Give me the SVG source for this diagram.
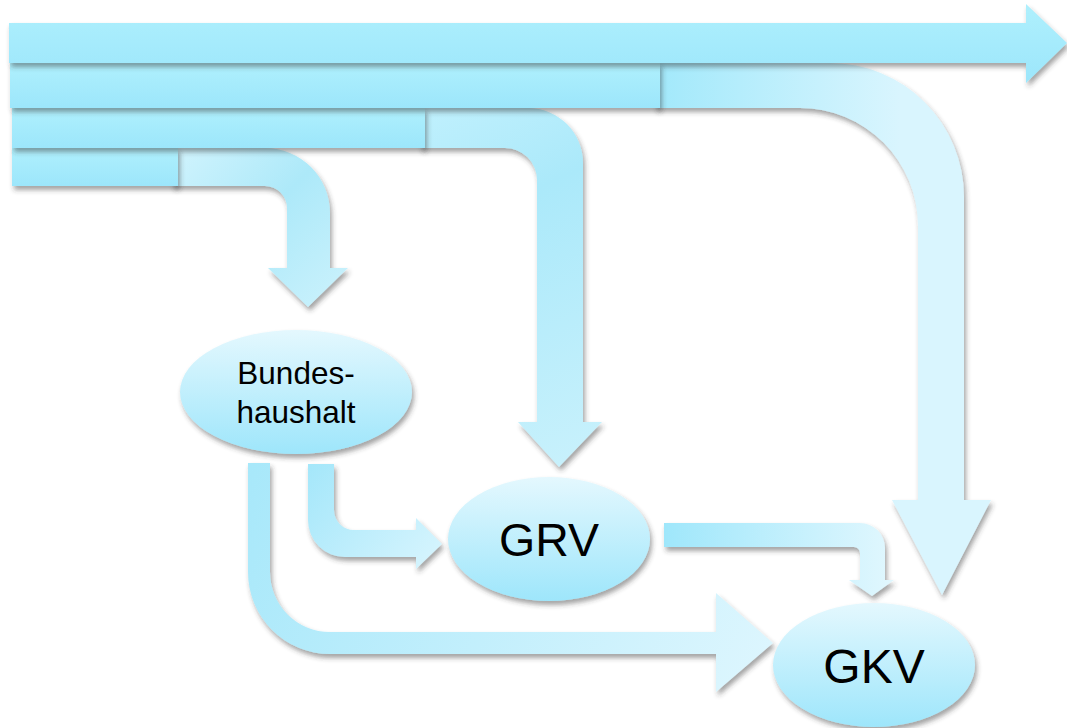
<svg xmlns="http://www.w3.org/2000/svg" width="1067" height="728" viewBox="0 0 1067 728">
<defs>
<filter id="sh" x="-20%" y="-20%" width="140%" height="150%">
<feDropShadow dx="2" dy="4" stdDeviation="2.5" flood-color="#333" flood-opacity="0.45"/>
</filter>
<linearGradient id="gBar" x1="0" y1="0" x2="0" y2="1">
<stop offset="0" stop-color="#aff0fd"/>
<stop offset="1" stop-color="#9ce6fb"/>
</linearGradient>
<linearGradient id="gNode" x1="0" y1="0" x2="0" y2="1">
<stop offset="0" stop-color="#e4f8fe"/>
<stop offset="1" stop-color="#9ee6fb"/>
</linearGradient>
<linearGradient id="gA" gradientUnits="userSpaceOnUse" x1="180" y1="150" x2="330" y2="300">
<stop offset="0" stop-color="#cff3fd"/>
<stop offset="0.5" stop-color="#ade9f9"/>
<stop offset="1" stop-color="#c8f1fc"/>
</linearGradient>
<linearGradient id="gB" gradientUnits="userSpaceOnUse" x1="430" y1="110" x2="590" y2="460">
<stop offset="0" stop-color="#bff0fd"/>
<stop offset="0.3" stop-color="#abe9fa"/>
<stop offset="1" stop-color="#c8f1fc"/>
</linearGradient>
<linearGradient id="gC" gradientUnits="userSpaceOnUse" x1="660" y1="0" x2="900" y2="0">
<stop offset="0" stop-color="#a3e9fb"/>
<stop offset="1" stop-color="#d9f5fe"/>
</linearGradient>
<linearGradient id="gD" gradientUnits="userSpaceOnUse" x1="310" y1="465" x2="440" y2="570">
<stop offset="0" stop-color="#a5e7fa"/>
<stop offset="1" stop-color="#d8f5fe"/>
</linearGradient>
<linearGradient id="gE" gradientUnits="userSpaceOnUse" x1="250" y1="465" x2="760" y2="690">
<stop offset="0" stop-color="#a8e8fa"/>
<stop offset="1" stop-color="#ddf6fe"/>
</linearGradient>
<linearGradient id="gF" gradientUnits="userSpaceOnUse" x1="664" y1="0" x2="890" y2="0">
<stop offset="0" stop-color="#9fe7fb"/>
<stop offset="1" stop-color="#e0f7fe"/>
</linearGradient>
</defs>
<style>
.s{filter:url(#sh)}
.t{font-family:"Liberation Sans",Arial,sans-serif;fill:#000;text-anchor:middle}
</style>
<rect width="1067" height="728" fill="#fff"/>
<g id="connectors">
<path class="s" fill="url(#gE)" d="M 248 463 H 270 V 572 A 60 60 0 0 0 330 632 H 716 V 593 L 773 643 L 716 692 V 654 H 330 A 82 82 0 0 1 248 572 Z"/>
<path class="s" fill="url(#gD)" d="M 308 464 H 334 V 510 A 20 20 0 0 0 354 530 H 416 V 518 L 442 544 L 416 569 V 557 H 345 A 37 37 0 0 1 308 520 Z"/>
<path class="s" fill="url(#gF)" d="M 664 523 H 860 A 25 25 0 0 1 885 548 V 580 H 894 L 872 596 L 849 580 H 860 V 553 A 6 6 0 0 0 854 547 H 664 Z"/>
<path class="s" fill="url(#gC)" d="M 655 63 H 830 A 134 134 0 0 1 964 197 V 500 H 991 L 942 595 L 892 500 H 918 V 226 A 118 118 0 0 0 800 108 H 655 Z"/>
<path class="s" fill="url(#gB)" d="M 420 108 H 528 A 55 55 0 0 1 583 163 V 422 H 602 L 559 467 L 518 422 H 537 V 180 A 32 32 0 0 0 505 148 H 420 Z"/>
<path class="s" fill="url(#gA)" d="M 172 148 H 265 A 65 65 0 0 1 330 213 V 268 H 348 L 308 307 L 268 268 H 287 V 208 A 22 22 0 0 0 265 186 H 172 Z"/>
</g>
<g id="sources">
<rect class="s" x="12" y="148" width="166" height="38" fill="url(#gBar)"/>
<rect class="s" x="12" y="108" width="413" height="40" fill="url(#gBar)"/>
<rect class="s" x="10" y="63" width="650" height="45" fill="url(#gBar)"/>
<path class="s" fill="url(#gBar)" d="M 9 23 H 1026 V 4 L 1067 43 L 1026 83 V 63 H 9 Z"/>
</g>
<g id="bundeshaushalt">
<ellipse class="s" cx="296" cy="392" rx="116" ry="62" fill="url(#gNode)"/>
<text class="t" x="296" y="384" font-size="31.5">Bundes-</text>
<text class="t" x="296" y="423" font-size="31.5">haushalt</text>
</g>
<g id="grv">
<ellipse class="s" cx="549" cy="539" rx="101" ry="62" fill="url(#gNode)"/>
<text class="t" x="549" y="556" font-size="46.5">GRV</text>
</g>
<g id="gkv">
<ellipse class="s" cx="874" cy="665" rx="101" ry="62" fill="url(#gNode)"/>
<text class="t" x="874" y="683" font-size="48">GKV</text>
</g>
</svg>
